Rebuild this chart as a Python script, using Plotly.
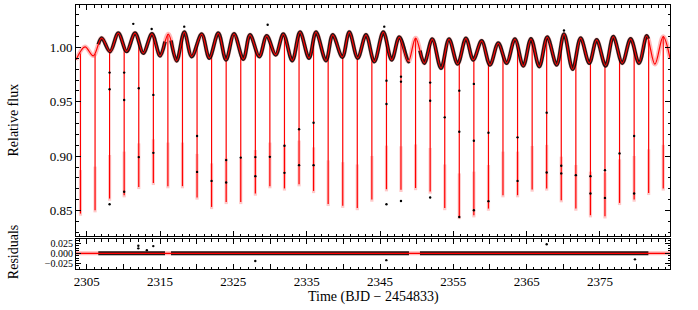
import plotly.graph_objects as go

# ---- model modulation: extrema (time, relative flux)
mod_t = [2303.54, 2304.77, 2305.90, 2307.04, 2308.18, 2309.31, 2310.45, 2311.59, 2312.72,
         2313.90, 2315.00, 2316.13, 2317.27, 2318.31, 2319.32, 2320.68, 2321.72, 2322.95,
         2324.00, 2325.09, 2326.36, 2327.27, 2328.54, 2329.55, 2330.77, 2331.81, 2333.04,
         2334.09, 2335.32, 2336.27, 2337.63, 2338.55, 2339.86, 2340.81, 2341.96, 2343.09,
         2344.22, 2345.45, 2346.59, 2347.63, 2348.86, 2349.86, 2351.04, 2352.13, 2353.32,
         2354.41, 2355.59, 2356.72, 2357.72, 2358.86, 2360.00, 2361.13, 2362.27, 2363.40,
         2364.54, 2365.59, 2366.72, 2367.81, 2369.09, 2370.09, 2371.27, 2372.36, 2373.54,
         2374.55, 2375.77, 2376.81, 2378.04, 2379.18, 2380.32, 2381.36, 2382.49, 2383.62,
         2384.55]
mod_f = [0.9885, 1.0005, 0.9922, 1.0085, 0.9961, 1.0131, 0.9963, 1.0131, 0.9947,
         1.0124, 0.9922, 1.0122, 0.9876, 1.0140, 0.9915, 1.0122, 0.9901, 1.0131,
         0.9885, 1.0124, 0.9891, 1.0115, 0.9915, 1.0106, 0.9931, 1.0122, 0.9878,
         1.0140, 0.9901, 1.0140, 0.9878, 1.0115, 0.9910, 1.0140, 0.9901, 1.0115,
         0.9869, 1.0140, 0.9885, 1.0094, 0.9869, 1.0085, 0.9855, 1.0076, 0.9808,
         1.0076, 0.9848, 1.0083, 0.9885, 1.0060, 0.9839, 1.0039, 0.9855, 1.0076,
         0.9830, 1.0078, 0.9823, 1.0094, 0.9839, 1.0122, 0.9799, 1.0085, 0.9855,
         1.0069, 0.9830, 1.0099, 0.9855, 1.0078, 0.9855, 1.0106, 0.9845, 1.0099,
         0.9900]

# ---- eclipses: mid-times, flux just outside eclipse, model flux at the bottom
ecl_t = [2304.15, 2306.14, 2308.12, 2310.11, 2312.10, 2314.09, 2316.07, 2318.06, 2320.05,
         2322.03, 2324.02, 2326.01, 2328.00, 2329.98, 2331.97, 2333.96, 2335.94, 2337.93,
         2339.92, 2341.90, 2343.89, 2345.88, 2347.86, 2349.85, 2351.84, 2353.83, 2355.81,
         2357.80, 2359.79, 2361.77, 2363.76, 2365.75, 2367.73, 2369.72, 2371.71, 2373.70,
         2375.68, 2377.67, 2379.66, 2381.64, 2383.63]
ecl_top = [0.9944, 0.9939, 0.9962, 0.9998, 1.0053, 1.0109, 1.0121, 1.0104, 1.0030,
           0.9935, 0.9885, 0.9932, 0.9992, 1.0058, 1.0112, 1.0130, 1.0076, 0.9935,
           0.9912, 0.9903, 0.9917, 1.0061, 1.0075, 1.0085, 1.0040, 0.9929, 0.9869,
           0.9887, 0.9857, 0.9929, 1.0020, 1.0066, 1.0090, 1.0037, 0.9900, 0.9868,
           0.9833, 0.9905, 0.9994, 1.0068, 1.0099]
ecl_depth = [0.8473, 0.8504, 0.8611, 0.8642, 0.8718, 0.8755, 0.8725, 0.8725, 0.8621,
             0.8534, 0.8580, 0.8580, 0.8657, 0.8725, 0.8704, 0.8743, 0.8681, 0.8562,
             0.8545, 0.8524, 0.8602, 0.8697, 0.8691, 0.8708, 0.8676, 0.8524, 0.8442,
             0.8458, 0.8519, 0.8642, 0.8642, 0.8694, 0.8704, 0.8596, 0.8519, 0.8458,
             0.8448, 0.8571, 0.8602, 0.8663, 0.8704]

# ---- individual in-eclipse observations
pt_t = [2308.12, 2308.12, 2308.12, 2310.11, 2310.11, 2310.11, 2312.10, 2312.10,
        2314.09, 2314.09, 2320.05, 2320.05, 2322.03, 2324.02, 2324.02, 2326.01,
        2328.00, 2328.00, 2329.98, 2331.97, 2331.97, 2333.96, 2333.96, 2335.94, 2335.94,
        2345.88, 2345.88, 2345.88, 2347.86, 2347.86, 2347.86, 2351.84, 2351.84, 2351.84,
        2353.83, 2355.81, 2355.81, 2355.81, 2357.80, 2357.80, 2357.80, 2359.79, 2359.79,
        2363.76, 2363.76, 2367.73, 2367.73, 2369.72, 2369.72, 2371.71, 2373.70, 2373.70,
        2375.68, 2375.68, 2377.67, 2379.66, 2379.66]
pt_f = [0.9768, 0.9615, 0.8559, 0.9768, 0.9517, 0.8674, 0.9624, 0.8992,
        0.9563, 0.9031, 0.9185, 0.8856, 0.8773, 0.8964, 0.8759, 0.8987,
        0.8992, 0.8817, 0.8994, 0.9096, 0.8847, 0.9247, 0.8918, 0.9308, 0.8918,
        0.9694, 0.9480, 0.8559, 0.9731, 0.9685, 0.8589, 0.9676, 0.9510, 0.8621,
        0.9357, 0.9602, 0.9225, 0.8442, 0.9664, 0.9142, 0.8504, 0.9215, 0.8587,
        0.9173, 0.8773, 0.9400, 0.8851, 0.8912, 0.8842, 0.8826, 0.8817, 0.8657,
        0.8872, 0.8617, 0.9026, 0.9185, 0.8657]

# ---- bright outliers out of eclipse
out_t = [2311.35, 2313.86, 2329.68, 2345.58, 2370.09, 2318.30]
out_f = [1.0216, 1.0168, 1.0207, 1.0190, 1.0155, 1.0190]

# ---- time ranges covered by observations (start/end and flux there)
seg_start = [2306.58, 2316.50, 2350.45]
seg_end = [2315.68, 2348.95, 2381.60]
seg_start_f = [1.0028, 1.0063, 0.9970]
seg_end_f = [1.0053, 0.9873, 1.0078]

# ---- residual outliers
res_t = [2312.04, 2312.04, 2314.08, 2313.20, 2327.99, 2345.86, 2367.73, 2379.77]
res_v = [0.0190, 0.0125, 0.0180, 0.0080, -0.0190, -0.0170, 0.0225, -0.0150]

x_range = [2303.54, 2384.55]
RED = "rgb(255,0,0)"
PINK = "rgba(255,60,60,0.35)"
GLOW = "rgba(255,60,60,0.28)"
DOT = "rgba(0,0,0,0.88)"

fig = go.Figure()

# eclipse lines (uncertainty glow + core)
gx, gy, cx, cy = [], [], [], []
for t, top, d in zip(ecl_t, ecl_top, ecl_depth):
    gx += [t, t, None]
    gy += [d - 0.002, d + 0.040, None]
    cx += [t, t, None]
    cy += [d, top, None]
fig.add_trace(go.Scatter(x=gx, y=gy, mode="lines", line=dict(color=GLOW, width=3.2),
                         hoverinfo="skip", xaxis="x", yaxis="y"))
fig.add_trace(go.Scatter(x=cx, y=cy, mode="lines", line=dict(color=RED, width=1.2),
                         hoverinfo="skip", xaxis="x", yaxis="y"))

# model uncertainty band
fig.add_trace(go.Scatter(x=mod_t, y=mod_f, mode="lines",
                         line=dict(color=PINK, width=4.5, shape="spline"),
                         hoverinfo="skip", xaxis="x", yaxis="y"))

# observed flux (dense band of points)
for s, e, sf, ef in zip(seg_start, seg_end, seg_start_f, seg_end_f):
    xs = [s] + [t for t in mod_t if s < t < e] + [e]
    ys = [sf] + [f for t, f in zip(mod_t, mod_f) if s < t < e] + [ef]
    fig.add_trace(go.Scatter(x=xs, y=ys, mode="lines",
                             line=dict(color=DOT, width=3.6, shape="spline"),
                             hoverinfo="skip", xaxis="x", yaxis="y"))

# model line
fig.add_trace(go.Scatter(x=mod_t, y=mod_f, mode="lines",
                         line=dict(color=RED, width=1.2, shape="spline"),
                         hoverinfo="skip", xaxis="x", yaxis="y"))

fig.add_trace(go.Scatter(x=pt_t + out_t, y=pt_f + out_f, mode="markers",
                         marker=dict(color="black", size=2.4),
                         hoverinfo="skip", xaxis="x", yaxis="y"))

# ---- residual panel
fig.add_trace(go.Scatter(x=x_range, y=[0, 0], mode="lines", line=dict(color=PINK, width=4),
                         hoverinfo="skip", xaxis="x2", yaxis="y2"))
for s, e in zip(seg_start, seg_end):
    fig.add_trace(go.Scatter(x=[s, e], y=[0, 0], mode="lines",
                             line=dict(color=DOT, width=4),
                             hoverinfo="skip", xaxis="x2", yaxis="y2"))
fig.add_trace(go.Scatter(x=x_range, y=[0, 0], mode="lines", line=dict(color=RED, width=1.4),
                         hoverinfo="skip", xaxis="x2", yaxis="y2"))
fig.add_trace(go.Scatter(x=res_t, y=res_v, mode="markers", marker=dict(color="black", size=2.4),
                         hoverinfo="skip", xaxis="x2", yaxis="y2"))

FONT = "Liberation Serif"
ax_common = dict(showline=True, linecolor="black", linewidth=1, mirror="ticks",
                 ticks="inside", ticklen=5, tickwidth=1, tickcolor="black",
                 showgrid=False, zeroline=False, automargin=False)
x_ticks = list(range(2305, 2385, 5))
x_text = [str(v) if (v - 2305) % 10 == 0 else "" for v in x_ticks]

fig.update_layout(
    width=698, height=310, margin=dict(l=76, r=28, t=5, b=41),
    paper_bgcolor="white", plot_bgcolor="white", showlegend=False,
    font=dict(family=FONT, size=13, color="black"),
    xaxis=dict(ax_common, range=x_range, anchor="y", matches="x2", showticklabels=False,
               tickmode="array", tickvals=x_ticks, ticktext=x_text,
               minor=dict(ticks="inside", ticklen=2.5, tickcolor="black", tick0=2300, dtick=1)),
    yaxis=dict(ax_common, domain=[0.125, 1.0], range=[0.8267, 1.0389], anchor="x",
               tickmode="array", tickvals=[0.85, 0.90, 0.95, 1.00],
               ticktext=["0.85", "0.90", "0.95", "1.00"],
               minor=dict(ticks="inside", ticklen=2.5, tickcolor="black", tick0=0.8, dtick=0.01)),
    xaxis2=dict(ax_common, range=x_range, anchor="y2",
                tickmode="array", tickvals=x_ticks, ticktext=x_text,
                minor=dict(ticks="inside", ticklen=2.5, tickcolor="black", tick0=2300, dtick=1)),
    yaxis2=dict(ax_common, domain=[0.0, 0.1125], range=[-0.039, 0.035], anchor="x2",
                tickmode="array", tickvals=[-0.025, 0.0, 0.025],
                ticktext=["\u22120.025", "0.000", "0.025"], tickfont=dict(size=10),
                minor=dict(ticks="inside", ticklen=2.5, tickcolor="black", tick0=0, dtick=0.00625)),
)

fig.add_annotation(text="Relative flux", xref="paper", yref="paper", x=-0.106, y=0.5625,
                   xanchor="center", yanchor="middle", textangle=-90, showarrow=False,
                   font=dict(family=FONT, size=14))
fig.add_annotation(text="Residuals", xref="paper", yref="paper", x=-0.106, y=0.064,
                   xanchor="center", yanchor="middle", textangle=-90, showarrow=False,
                   font=dict(family=FONT, size=14))
fig.add_annotation(text="Time (BJD \u2212 2454833)", xref="paper", yref="paper", x=0.5, y=-0.106,
                   xanchor="center", yanchor="middle", showarrow=False,
                   font=dict(family=FONT, size=14))

fig.write_html("out.html", config={"displayModeBar": False},
               post_script="document.body.style.margin='0';")
